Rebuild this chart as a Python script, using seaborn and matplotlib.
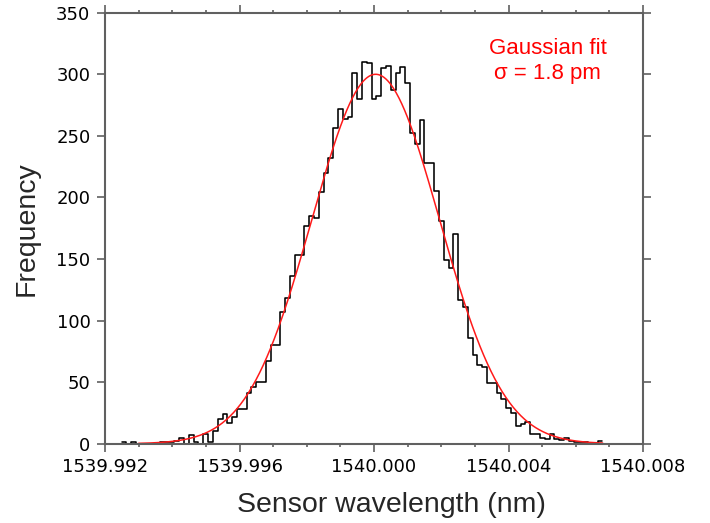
import numpy as np
import pandas as pd
import matplotlib
matplotlib.use("Agg")
import matplotlib.pyplot as plt
from matplotlib.ticker import MultipleLocator, FixedLocator, FixedFormatter
import seaborn as sns

# ---- data ----
bin_first_center = 1539.992564   # nm, centre of the leftmost bin
bin_width = 0.000143             # nm
counts = [1, 0, 1, 0, 0, 0, 0, 0, 1, 1,
          1, 2, 5, 0, 7, 1, 0, 8, 1, 10,
          20, 24, 17, 22, 28, 28, 41, 46, 50, 50,
          67, 80, 80, 107, 118, 136, 153, 153, 177, 185,
          183, 204, 220, 232, 256, 272, 264, 265, 301, 280,
          310, 309, 280, 282, 305, 307, 287, 301, 306, 293,
          252, 243, 263, 228, 228, 205, 181, 149, 143, 170,
          117, 111, 86, 72, 64, 62, 49, 49, 41, 36,
          29, 25, 14, 16, 18, 8, 8, 5, 4, 8,
          4, 3, 5, 2, 1, 1, 1, 0, 0, 2]
fit_amplitude = 300.0
fit_center = 1540.00005
fit_sigma = 0.0019
fit_range = (1539.9930, 1540.0068)

x_ticks = [1539.992, 1539.996, 1540.000, 1540.004, 1540.008]
x_tick_labels = ["1539.992", "1539.996", "1540.000", "1540.004", "1540.008"]
y_ticks = [0, 50, 100, 150, 200, 250, 300, 350]
y_tick_labels = ["0", "50", "100", "150", "200", "250", "300", "350"]

# ---- derived ----
n = len(counts)
centers = bin_first_center + bin_width * np.arange(n)
edges = [float(c - bin_width / 2) for c in centers] + [float(centers[-1] + bin_width / 2)]
df = pd.DataFrame({"wl": centers, "count": np.asarray(counts, dtype=float)})
fx = np.linspace(fit_range[0], fit_range[1], 500)
fy = fit_amplitude * np.exp(-0.5 * ((fx - fit_center) / fit_sigma) ** 2)

sns.set_style("ticks")
plt.rcParams["font.family"] = ["DejaVu Sans"]

fig = plt.figure(figsize=(7.1, 5.23), dpi=100)
W, H = 710, 523
L, R, T, B = 105, 643, 12.7, 443.7
ax = fig.add_axes([L / W, (H - B) / H, (R - L) / W, (B - T) / H])

sns.histplot(data=df, x="wl", weights="count", bins=edges, element="step", fill=False,
             color="black", linewidth=1.15, ax=ax)
sns.lineplot(x=fx, y=fy, color="#ff1a1a", linewidth=1.1, ax=ax)

ax.set_xlim(1539.992, 1540.008)
ax.set_ylim(0, 350)
ax.xaxis.set_major_locator(FixedLocator(x_ticks))
ax.xaxis.set_major_formatter(FixedFormatter(x_tick_labels))
ax.xaxis.set_minor_locator(MultipleLocator(0.001))
ax.yaxis.set_major_locator(FixedLocator(y_ticks))
ax.yaxis.set_major_formatter(FixedFormatter(y_tick_labels))

spine_col = "#606060"
for s in ax.spines.values():
    s.set_visible(True)
    s.set_color(spine_col)
    s.set_linewidth(1.5)

ax.tick_params(which="both", direction="out", top=True, right=True,
               color=spine_col, width=1.2, labelsize=13, labelcolor="black")
ax.tick_params(which="major", length=5.5)
ax.tick_params(which="minor", length=2.5)
ax.tick_params(axis="x", which="major", pad=5)
ax.tick_params(axis="y", which="major", pad=5)

ax.set_xlabel("")
ax.set_ylabel("")

fig.text(27 / W, (H - 229) / H, "Frequency", rotation=90, ha="center", va="center",
         fontsize=20.5, family=["Liberation Sans"])
fig.text(391 / W, (H - 505) / H, "Sensor wavelength (nm)", ha="center", va="center",
         fontsize=20.5, family=["Liberation Sans"])
ax.text(0.823, 0.888, "Gaussian fit\nσ = 1.8 pm", transform=ax.transAxes,
        ha="center", va="center", color="#ff0000", fontsize=16,
        family=["Liberation Sans"], linespacing=1.22)

fig.savefig("out.png", dpi=100)
